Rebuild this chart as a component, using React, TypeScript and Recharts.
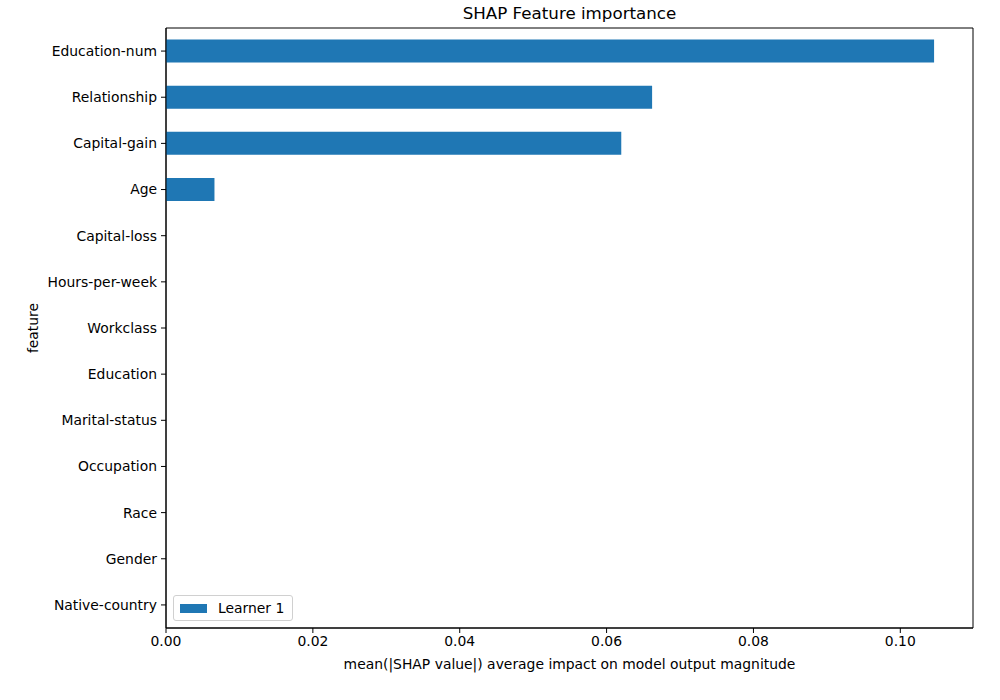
import { BarChart, Bar, XAxis, YAxis, ReferenceArea, Label } from 'recharts'

// feature names top to bottom, as drawn
const features = [
  'Education-num',
  'Relationship',
  'Capital-gain',
  'Age',
  'Capital-loss',
  'Hours-per-week',
  'Workclass',
  'Education',
  'Marital-status',
  'Occupation',
  'Race',
  'Gender',
  'Native-country',
]
const learner1 = [0.1046, 0.0662, 0.062, 0.0066, 0, 0, 0, 0, 0, 0, 0, 0, 0]
const xTicks = [0, 0.02, 0.04, 0.06, 0.08, 0.1]
const xMax = 0.1099

const data = features.map((f, i) => ({ feature: f, value: learner1[i] }))

const FONT = 'DejaVu Sans, sans-serif'
const FS = 13.9
const BLUE = '#1f77b4'

export default function App() {
  return (
    <div style={{ position: 'absolute', left: 0, top: 0, width: 1000, height: 700, background: '#fff', fontFamily: FONT }}>
      <div style={{ position: 'absolute', left: 166, width: 807, top: 3, textAlign: 'center', fontSize: 16.7 }}>
        SHAP Feature importance
      </div>
      <BarChart
        width={1000}
        height={700}
        data={data}
        layout="vertical"
        margin={{ top: 28, right: 27, left: 0, bottom: 22 }}
        barCategoryGap="25%"
      >
        <XAxis
          type="number"
          domain={[0, xMax]}
          allowDataOverflow
          ticks={xTicks}
          tickFormatter={(v) => Number(v).toFixed(2)}
          tick={{ fontSize: FS, fill: '#000', fontFamily: FONT }}
          tickSize={5}
          tickMargin={3}
          stroke="#000"
          height={50}
        >
          <Label
            content={(p: any) => (
              <text
                x={p.viewBox.x + p.viewBox.width / 2}
                y={p.viewBox.y + 41}
                textAnchor="middle"
                fontSize={FS}
                fontFamily={FONT}
                fill="#000"
              >
                mean(|SHAP value|) average impact on model output magnitude
              </text>
            )}
          />
        </XAxis>
        <YAxis
          type="category"
          dataKey="feature"
          width={166}
          tick={{ fontSize: FS, fill: '#000', fontFamily: FONT }}
          tickSize={5}
          tickMargin={4}
          stroke="#000"
          interval={0}
        >
          <Label
            content={(p: any) => {
              const cx = p.viewBox.x + 38
              const cy = p.viewBox.y + p.viewBox.height / 2
              return (
                <text
                  x={cx}
                  y={cy}
                  transform={`rotate(-90 ${cx} ${cy})`}
                  textAnchor="middle"
                  fontSize={FS}
                  fontFamily={FONT}
                  fill="#000"
                >
                  feature
                </text>
              )
            }}
          />
        </YAxis>
        <ReferenceArea x1={0} x2={xMax} fill="none" stroke="#000" strokeWidth={1} ifOverflow="visible" />
        <Bar dataKey="value" name="Learner 1" fill={BLUE} isAnimationActive={false} />
      </BarChart>
      <div
        style={{
          position: 'absolute',
          left: 173,
          top: 595,
          display: 'flex',
          alignItems: 'center',
          border: '1px solid #d0d0d0',
          borderRadius: 3,
          padding: '4px 8px 4px 6px',
          background: '#fff',
          fontSize: FS,
          color: '#000',
        }}
      >
        <span style={{ display: 'inline-block', width: 27, height: 9, background: BLUE, marginRight: 11 }} />
        Learner 1
      </div>
    </div>
  )
}
